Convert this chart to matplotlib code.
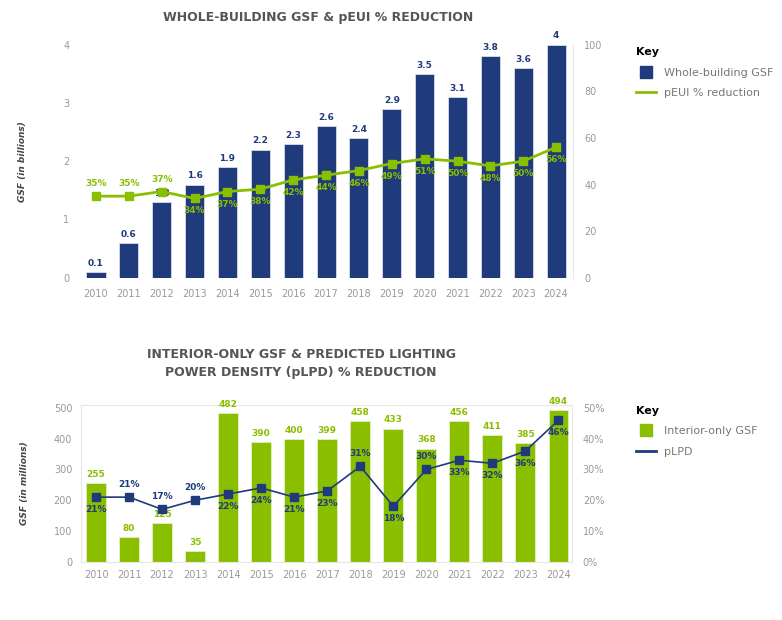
import numpy as np
import matplotlib
matplotlib.use("Agg")
from matplotlib import pyplot as plt
from matplotlib.lines import Line2D

#%% data
years = [str(y) for y in range(2010, 2025)]
whole_gsf = [0.1, 0.6, 1.3, 1.6, 1.9, 2.2, 2.3, 2.6, 2.4, 2.9, 3.5, 3.1, 3.8, 3.6, 4]
peui = [35, 35, 37, 34, 37, 38, 42, 44, 46, 49, 51, 50, 48, 50, 56]
peui_above = [1, 1, 1, 0, 0, 0, 0, 0, 0, 0, 0, 0, 0, 0, 0]

interior_gsf = [255, 80, 125, 35, 482, 390, 400, 399, 458, 433, 368, 456, 411, 385, 494]
plpd = [21, 21, 17, 20, 22, 24, 21, 23, 31, 18, 30, 33, 32, 36, 46]
plpd_above = [0, 1, 1, 1, 0, 0, 0, 0, 1, 0, 1, 0, 0, 0, 0]

navy = "#1f3b7b"
green = "#8abf00"
grey = "#999999"
frame = "#e6e6e6"

plt.rcParams['font.family'] = ['DejaVu Sans']

#%% helpers
def style_axes(ax, ax2, show_frame):
    for a in (ax, ax2):
        for s in a.spines.values():
            s.set_visible(False)
        a.tick_params(length=0, labelsize=7, colors=grey)
    ax2.spines['right'].set_visible(True)
    ax2.spines['right'].set_color(frame)
    if show_frame:
        for s in ('top', 'left', 'bottom'):
            ax.spines[s].set_visible(True)
            ax.spines[s].set_color(frame)


def label_line(ax, x, vals, above, color):
    for xi, v, up in zip(x, vals, above):
        off = 9 if up else -9
        ax.annotate(f"{v}%", (xi, v), xytext=(0, off), textcoords="offset points",
                    ha="center", va="center", fontsize=6.5, fontweight="bold", color=color)


def key(fig, bar_color, line_color, labels, y):
    handles = [Line2D([0], [0], ls="none", marker="s", ms=9, color=bar_color),
               Line2D([0], [0], color=line_color, lw=2)]
    fig.legend(handles=handles, labels=labels, title="Key",
               loc="upper left", bbox_to_anchor=(0.8, y), frameon=False, fontsize=8,
               title_fontproperties={"weight": "bold", "size": 8}, labelcolor="#777777",
               handlelength=1.8, alignment="left", labelspacing=0.95)


fig = plt.figure(figsize=(7.82, 6.2), dpi=100)
x = np.arange(len(years))

#%% top chart
ax = fig.add_axes([0.103, 0.552, 0.630, 0.376])
ax.bar(x, whole_gsf, width=0.58, color=navy, edgecolor="#d9dde8", lw=0.6, zorder=2)
for xi, v in zip(x, whole_gsf):
    ax.annotate(f"{v:g}", (xi, v), xytext=(0, 3), textcoords="offset points",
                ha="center", va="bottom", fontsize=6.5, fontweight="bold", color=navy)
ax.set_xlim(-0.47, 14.52)
ax.set_ylim(0, 4)
ax.set_yticks([0, 1, 2, 3, 4])
ax.set_xticks(x)
ax.set_xticklabels(years)
ax.set_ylabel("GSF (in billions)", fontsize=6.5, fontstyle="italic", fontweight="bold",
              color="#444444", labelpad=26)
ax2 = ax.twinx()
ax2.plot(x, peui, color=green, lw=2, marker="s", ms=6, zorder=3)
label_line(ax2, x, peui, peui_above, green)
ax2.set_ylim(0, 100)
ax2.set_yticks([0, 20, 40, 60, 80, 100])
style_axes(ax, ax2, False)
ax.tick_params(axis='x', pad=8)
ax.tick_params(axis='y', pad=8)
ax2.tick_params(axis='y', pad=8)
fig.text(0.407, 0.972, "WHOLE-BUILDING GSF & pEUI % REDUCTION", ha="center", va="center",
         fontsize=9, fontweight="bold", color="#555555")
key(fig, navy, green, ["Whole-building GSF", "pEUI % reduction"], 0.94)

#%% bottom chart
bx = fig.add_axes([0.103, 0.094, 0.628, 0.253])
bx.bar(x, interior_gsf, width=0.6, color=green, edgecolor="#e4f0c4", lw=0.6, zorder=2)
for xi, v in zip(x, interior_gsf):
    bx.annotate(f"{v}", (xi, v), xytext=(0, 3), textcoords="offset points",
                ha="center", va="bottom", fontsize=6.5, fontweight="bold", color=green)
bx.set_xlim(-0.47, 14.4)
bx.set_ylim(0, 510)
bx.set_yticks([0, 100, 200, 300, 400, 500])
bx.set_xticks(x)
bx.set_xticklabels(years)
bx.set_ylabel("GSF (in millions)", fontsize=6.5, fontstyle="italic", fontweight="bold",
              color="#444444", labelpad=18)
bx2 = bx.twinx()
bx2.plot(x, plpd, color=navy, lw=1.2, marker="s", ms=6, zorder=3)
label_line(bx2, x, plpd, plpd_above, navy)
bx2.set_ylim(0, 51)
bx2.set_yticks([0, 10, 20, 30, 40, 50])
bx2.set_yticklabels([f"{t}%" for t in [0, 10, 20, 30, 40, 50]])
style_axes(bx, bx2, True)
bx.tick_params(axis='x', pad=6)
bx.tick_params(axis='y', pad=6)
bx2.tick_params(axis='y', pad=8)
fig.text(0.385, 0.414, "INTERIOR-ONLY GSF & PREDICTED LIGHTING\nPOWER DENSITY (pLPD) % REDUCTION",
         ha="center", va="center", fontsize=9, fontweight="bold", color="#555555", linespacing=1.5)
key(fig, green, navy, ["Interior-only GSF", "pLPD"], 0.362)

fig.savefig("out.png", dpi=100)
